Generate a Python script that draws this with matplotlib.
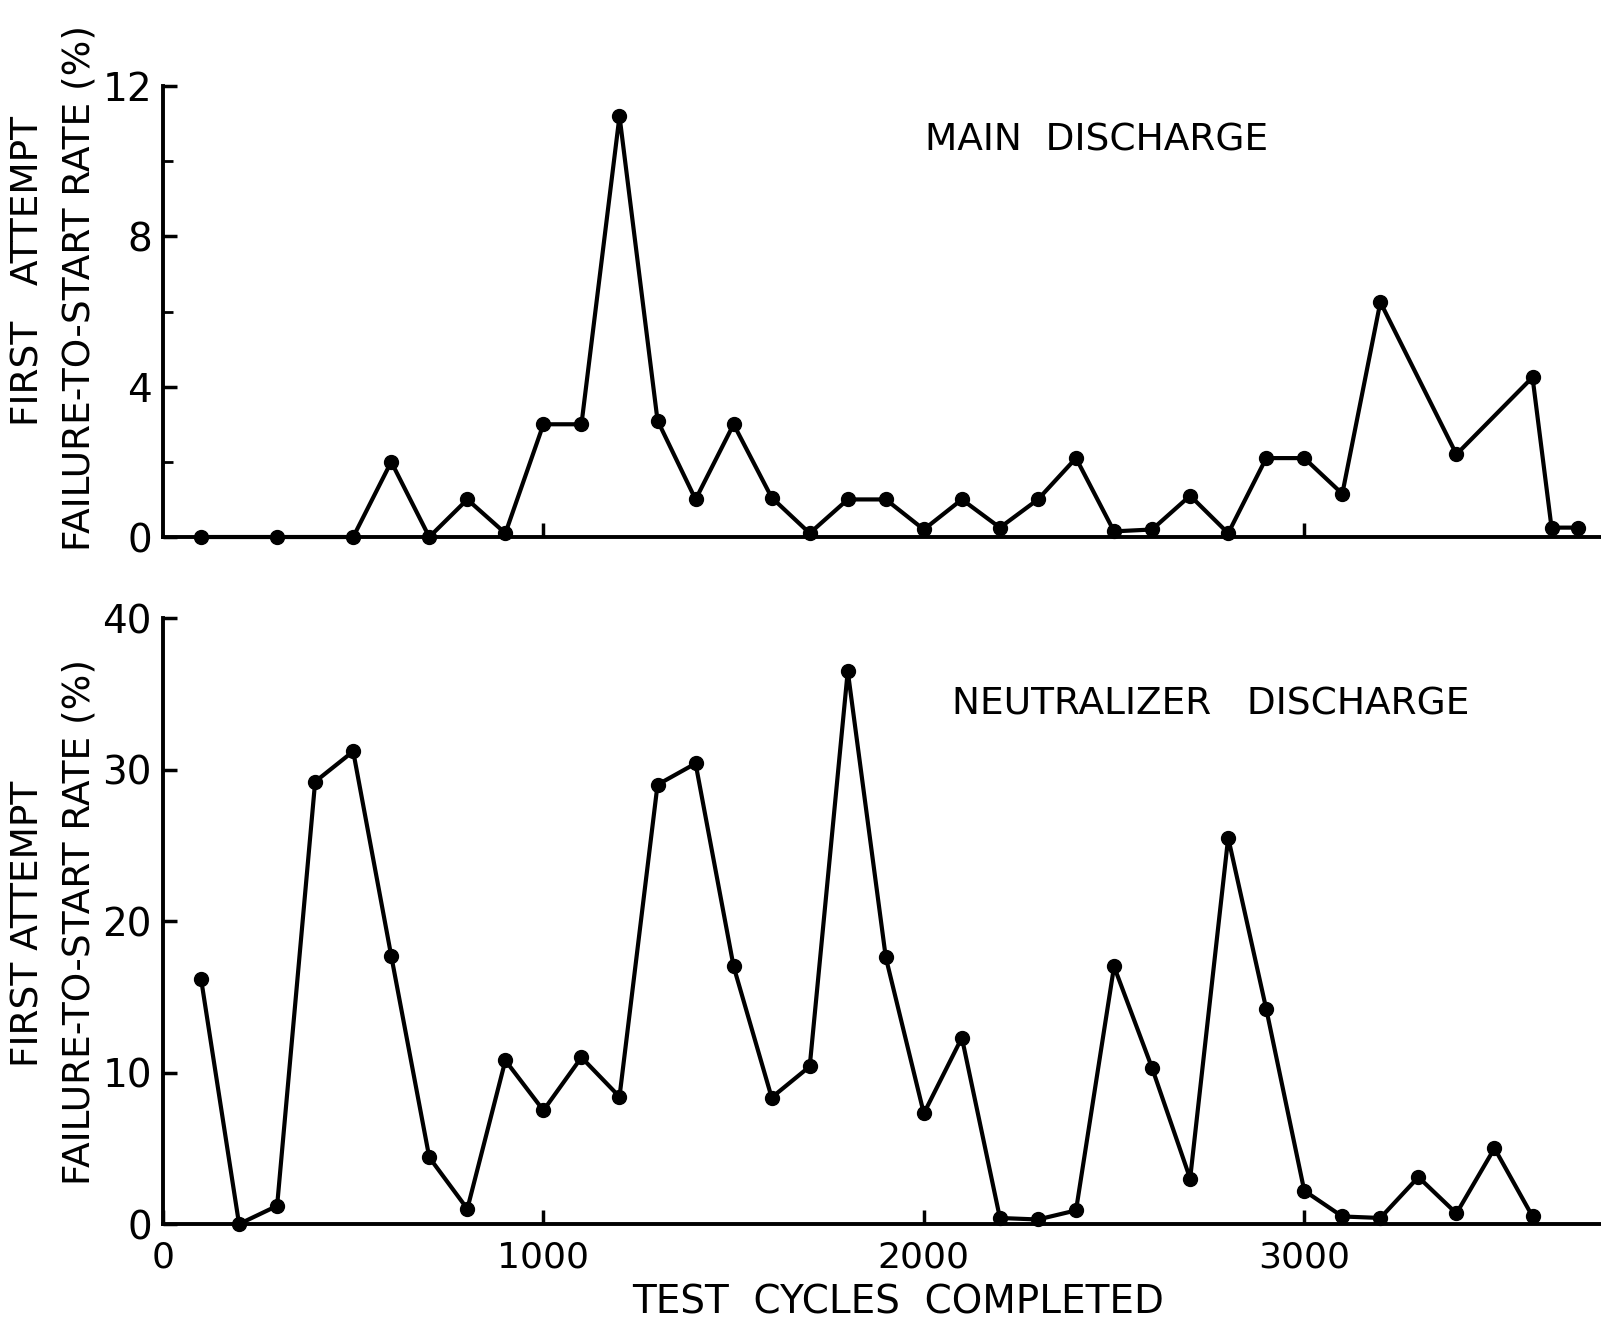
import numpy as np
import matplotlib.pyplot as plt

# Main discharge (top panel)
main_cycles = [100, 300, 500, 600, 700, 800, 900, 1000, 1100, 1200, 1300, 1400,
               1500, 1600, 1700, 1800, 1900, 2000, 2100, 2200, 2300, 2400, 2500,
               2600, 2700, 2800, 2900, 3000, 3100, 3200, 3400, 3600, 3650, 3720]
main_rate = [0.0, 0.0, 0.0, 2.0, 0.0, 1.0, 0.1, 3.0, 3.0, 11.2, 3.1, 1.0,
             3.0, 1.05, 0.1, 1.0, 1.0, 0.2, 1.0, 0.25, 1.0, 2.1, 0.15,
             0.2, 1.1, 0.1, 2.1, 2.1, 1.15, 6.25, 2.2, 4.25, 0.25, 0.25]

# Neutralizer discharge (bottom panel)
neut_cycles = [100, 200, 300, 400, 500, 600, 700, 800, 900, 1000, 1100, 1200,
               1300, 1400, 1500, 1600, 1700, 1800, 1900, 2000, 2100, 2200, 2300,
               2400, 2500, 2600, 2700, 2800, 2900, 3000, 3100, 3200, 3300, 3400,
               3500, 3600]
neut_rate = [16.2, 0.0, 1.2, 29.2, 31.2, 17.7, 4.4, 1.0, 10.8, 7.5, 11.0, 8.4,
             29.0, 30.4, 17.0, 8.35, 10.4, 36.5, 17.6, 7.3, 12.3, 0.4, 0.3,
             0.9, 17.0, 10.3, 3.0, 25.5, 14.2, 2.2, 0.5, 0.4, 3.1, 0.7,
             5.0, 0.5]

main_yticks = [0, 4, 8, 12]
main_yminor = [2, 6, 10]
neut_yticks = [0, 10, 20, 30, 40]
x_ticks = [1000, 2000, 3000]

fs = 27
plt.rcParams['font.family'] = 'DejaVu Sans'

fig = plt.figure(figsize=(16.01, 13.24), dpi=100)
ax1 = fig.add_axes([0.1018, 0.5944, 0.8982, 0.3406])
ax2 = fig.add_axes([0.1018, 0.0755, 0.8982, 0.4577])

for ax in (ax1, ax2):
    ax.set_xlim(0, 3780)
    for s in ('top', 'right'):
        ax.spines[s].set_visible(False)
    for s in ('left', 'bottom'):
        ax.spines[s].set_linewidth(2.8)
    ax.tick_params(axis='y', direction='in', length=10, width=2.5, labelsize=28, pad=8)
    ax.tick_params(axis='x', direction='in', length=10, width=2.5, labelsize=26, pad=12)
    ax.tick_params(which='minor', direction='in', length=7, width=2)
    ax.set_xticks(x_ticks)

# top panel
ax1.plot(main_cycles, main_rate, color='black', lw=3, marker='o', ms=10,
         clip_on=False, zorder=3)
ax1.set_ylim(0, 12)
ax1.set_yticks(main_yticks)
ax1.set_yticks(main_yminor, minor=True)
ax1.set_xticklabels([])
ax1.text(2453, 10.56, 'MAIN  DISCHARGE', fontsize=fs, ha='center', va='center')
fig.text(0.018, 0.7956, 'FIRST   ATTEMPT', fontsize=fs, rotation=90,
         ha='center', va='center')
fig.text(0.0497, 0.7825, 'FAILURE-TO-START RATE (%)', fontsize=fs, rotation=90,
         ha='center', va='center')

# bottom panel
ax2.plot(neut_cycles, neut_rate, color='black', lw=3, marker='o', ms=10,
         clip_on=False, zorder=3)
ax2.set_ylim(0, 40)
ax2.set_yticks(neut_yticks)
ax2.set_xticks([0] + x_ticks)
ax2.set_xticklabels(['0', '1000', '2000', '3000'])
ax2.text(2753, 34.3, 'NEUTRALIZER   DISCHARGE', fontsize=fs, ha='center', va='center')
fig.text(0.018, 0.302, 'FIRST ATTEMPT', fontsize=fs, rotation=90,
         ha='center', va='center')
fig.text(0.0497, 0.304, 'FAILURE-TO-START RATE (%)', fontsize=fs, rotation=90,
         ha='center', va='center')

fig.text(0.561, 0.016, 'TEST  CYCLES  COMPLETED', fontsize=28, ha='center', va='center')

fig.savefig('out.png', dpi=100)
